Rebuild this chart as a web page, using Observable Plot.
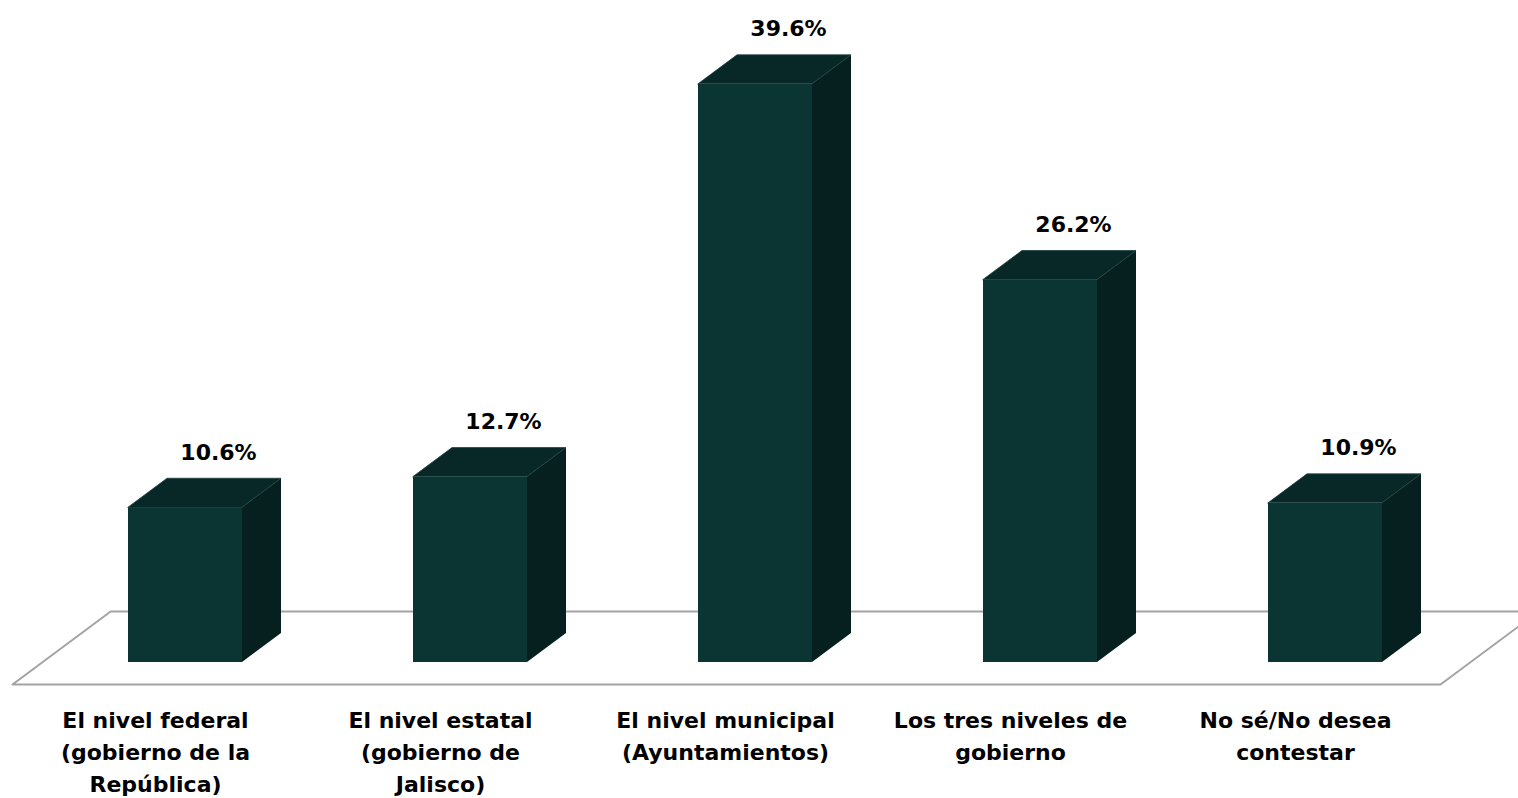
<!DOCTYPE html>
<html>
<head>
<meta charset="utf-8">
<script src="https://cdn.jsdelivr.net/npm/d3@7"></script>
<script src="https://cdn.jsdelivr.net/npm/@observablehq/plot@0.6"></script>
<style>
  html, body { margin: 0; padding: 0; background: #fff; overflow: hidden; }
  #chart svg { display: block; }
</style>
</head>
<body>
<div id="chart"></div>
<script>
// ---- data ----
const categories = [
  "El nivel federal\n(gobierno de la\nRepública)",
  "El nivel estatal\n(gobierno de\nJalisco)",
  "El nivel municipal\n(Ayuntamientos)",
  "Los tres niveles de\ngobierno",
  "No sé/No desea\ncontestar"
];
const values = [10.6, 12.7, 39.6, 26.2, 10.9];

// ---- style / geometry (oblique 3D look) ----
const W = 1518, H = 798;
const pxX = 285;            // pixels per category step
const pxY = 14.6;           // pixels per percentage point
const x0px = 185;           // pixel of first category centre
const base = 662;           // pixel of value 0
const hw = 57 / pxX;        // half bar width (x units)
const dX = 39 / pxX;        // depth offset in x units
const dY = 29 / pxY;        // depth offset in y units
const FRONT = "#0b3533", TOP = "#082827", SIDE = "#06201f";
const FONT = "'DejaVu Sans', sans-serif";

const bars = categories.map((c, i) => ({c, i, v: values[i]}));
const topPts = bars.flatMap(d => [
  {c: d.c, y: d.v, x1: d.i - hw, x2: d.i + hw},
  {c: d.c, y: d.v + dY, x1: d.i - hw + dX, x2: d.i + hw + dX}
]);
const sidePts = bars.flatMap(d => [
  {c: d.c, x: d.i + hw, y1: 0, y2: d.v},
  {c: d.c, x: d.i + hw + dX, y1: dY, y2: d.v + dY}
]);

// floor parallelogram
const fFront = -22 / pxY, fBack = 51 / pxY;
const fL = (12 - x0px) / pxX, fR = (1440 - x0px) / pxX;
const fD = (fBack - fFront) * (dX / dY);
const floor = [
  {x: fR + fD, y: fBack}, {x: fL + fD, y: fBack},
  {x: fL, y: fFront}, {x: fR, y: fFront}, {x: fR + fD, y: fBack}
];

const chart = Plot.plot({
  width: W, height: H, margin: 0,
  x: {type: "linear", domain: [-x0px / pxX, (W - x0px) / pxX], axis: null},
  y: {domain: [(base - H) / pxY, base / pxY], axis: null},
  style: {background: "#fff"},
  marks: [
    Plot.line(floor, {x: "x", y: "y", stroke: "#a3a3a3", strokeWidth: 2, clip: true}),
    Plot.areaY(sidePts, {x: "x", y1: "y1", y2: "y2", z: "c", fill: SIDE}),
    Plot.areaX(topPts, {y: "y", x1: "x1", x2: "x2", z: "c", fill: TOP, stroke: "#1c3f3d", strokeWidth: 0.8}),
    Plot.rect(bars, {x1: d => d.i - hw, x2: d => d.i + hw, y1: 0, y2: "v", fill: FRONT}),
    Plot.text(bars, {
      x: "i", y: d => d.v + dY, text: d => d.v.toFixed(1) + "%",
      dx: 33, dy: -26, fontSize: 22, fontWeight: "bold", fontFamily: FONT, fill: "#000"
    }),
    Plot.text(bars, {
      x: "i", y: 0, text: "c", dx: -30, dy: 43, lineAnchor: "top", lineHeight: 1.45,
      fontSize: 22, fontWeight: "bold", fontFamily: FONT, fill: "#000"
    })
  ]
});
document.getElementById("chart").append(chart);
</script>
</body>
</html>
